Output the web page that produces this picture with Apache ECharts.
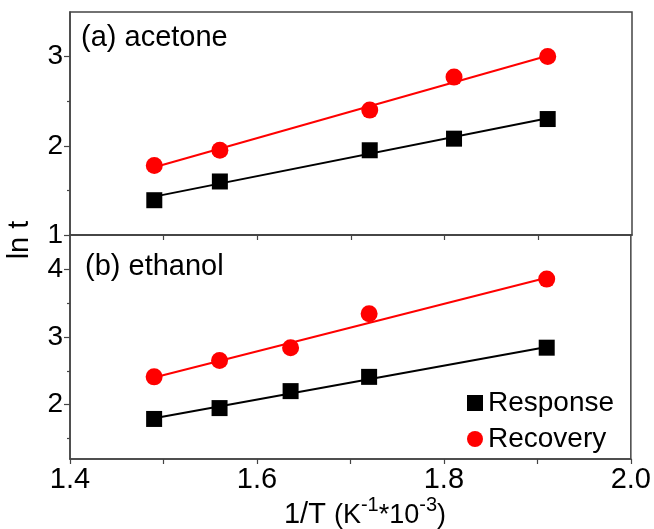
<!DOCTYPE html>
<html>
<head>
<meta charset="utf-8">
<script src="https://cdn.jsdelivr.net/npm/echarts@6/dist/echarts.min.js"></script>
<style>
html,body{margin:0;padding:0;background:#fff;}
#c{width:654px;height:529px;}
</style>
</head>
<body>
<div id="c"></div>
<script>
// ---- data ----
const xAcetone = [1.49, 1.56, 1.72, 1.81, 1.91];
const respAcetone = [1.39, 1.60, 1.95, 2.08, 2.30];
const recAcetone = [1.78, 1.95, 2.40, 2.77, 3.00];

const xEthanol = [1.49, 1.56, 1.636, 1.72, 1.91];
const respEthanol = [1.79, 1.95, 2.20, 2.41, 2.84];
const recEthanol = [2.41, 2.65, 2.84, 3.34, 3.85];

// linear fit lines (end points)
const fitX = [1.49, 1.91];
const fitRespAcetone = [1.43, 2.31];
const fitRecAcetone = [1.76, 3.01];
const fitRespEthanol = [1.80, 2.85];
const fitRecEthanol = [2.40, 3.87];

// tick labels
const xTickLabels = [1.4, 1.6, 1.8, 2.0];
const xTicks = [1.4, 1.5, 1.6, 1.7, 1.8, 1.9, 2.0];
const yTicksA = [1, 2, 3];
const yMinorA = [1.5, 2.5];
const yTicksB = [2, 3, 4];
const yMinorB = [1.5, 2.5, 3.5];

const FONT = "'Liberation Sans', Arial, sans-serif";
const AX = '#444';

function pairs(xs, ys) { return xs.map((x, i) => [x, ys[i]]); }

const chart = echarts.init(document.getElementById('c'));

function xAxisCfg(gi, showLabels) {
  return {
    type: 'value', gridIndex: gi, min: 1.4, max: 2.0,
    axisLine: { show: true, onZero: false, lineStyle: { color: AX, width: 1.5 } },
    axisTick: { show: true, inside: false, length: 5, customValues: showLabels ? xTicks : xTicks.slice(1, 6), lineStyle: { color: AX, width: 1.2 } },
    axisLabel: { show: showLabels, customValues: xTickLabels, formatter: v => v.toFixed(1), color: '#000', fontSize: 29, fontFamily: FONT, margin: 6 },
    splitLine: { show: false }
  };
}
function yAxisCfg(gi, min, max, ticks) {
  return {
    type: 'value', gridIndex: gi, min: min, max: max, position: 'left',
    axisLine: { show: true, onZero: false, lineStyle: { color: AX, width: 1.5 } },
    axisTick: { show: true, inside: false, length: 6, customValues: ticks, lineStyle: { color: AX, width: 1.2 } },
    axisLabel: { show: true, customValues: ticks, color: '#000', fontSize: 28, fontFamily: FONT, margin: 7 },
    splitLine: { show: false }
  };
}
function yMinorCfg(gi, min, max, ticks) {
  return {
    type: 'value', gridIndex: gi, min: min, max: max, position: 'left',
    axisLine: { show: false },
    axisTick: { show: true, inside: false, length: 3, customValues: ticks, lineStyle: { color: AX, width: 1.2 } },
    axisLabel: { show: false },
    splitLine: { show: false }
  };
}

function fitLine(name, xi, yi, xs, ys, color) {
  return { name: name, type: 'line', xAxisIndex: xi, yAxisIndex: yi, data: pairs(xs, ys),
    symbol: 'none', lineStyle: { color: color, width: 2 }, z: 2, silent: true };
}
function pts(name, xi, yi, xs, ys, color, symbol, size) {
  return { name: name, type: 'scatter', xAxisIndex: xi, yAxisIndex: yi, data: pairs(xs, ys),
    symbol: symbol, symbolSize: size, itemStyle: { color: color, opacity: 1 }, z: 3 };
}

chart.setOption({
  animation: false,
  backgroundColor: '#fff',
  textStyle: { fontFamily: FONT },
  grid: [
    { left: 70, top: 12, width: 562, height: 223, show: true, borderColor: AX, borderWidth: 1.5, backgroundColor: 'transparent' },
    { left: 70, top: 235, width: 562, height: 224, show: true, borderColor: AX, borderWidth: 1.5, backgroundColor: 'transparent' }
  ],
  xAxis: [xAxisCfg(0, false), xAxisCfg(1, true)],
  yAxis: [
    yAxisCfg(0, 1, 3.5, yTicksA),
    yAxisCfg(1, 1.2, 4.5, yTicksB),
    yMinorCfg(0, 1, 3.5, yMinorA),
    yMinorCfg(1, 1.2, 4.5, yMinorB)
  ],
  legend: {
    orient: 'vertical', left: 462, top: 384, itemGap: 8,
    itemWidth: 16, itemHeight: 16,
    textStyle: { fontSize: 28, color: '#000', fontFamily: FONT },
    data: [
      { name: 'Response', icon: 'rect', itemStyle: { color: '#000' } },
      { name: 'Recovery', icon: 'circle', itemStyle: { color: '#ff0000' } }
    ]
  },
  series: [
    fitLine('fitA1', 0, 0, fitX, fitRespAcetone, '#000'),
    fitLine('fitA2', 0, 0, fitX, fitRecAcetone, '#ff0000'),
    fitLine('fitB1', 1, 1, fitX, fitRespEthanol, '#000'),
    fitLine('fitB2', 1, 1, fitX, fitRecEthanol, '#ff0000'),
    pts('Response', 0, 0, xAcetone, respAcetone, '#000', 'rect', 16),
    pts('Recovery', 0, 0, xAcetone, recAcetone, '#ff0000', 'circle', 17),
    pts('Response', 1, 1, xEthanol, respEthanol, '#000', 'rect', 16),
    pts('Recovery', 1, 1, xEthanol, recEthanol, '#ff0000', 'circle', 17)
  ],
  graphic: [
    { type: 'text', left: 81, top: 23, style: { text: '(a) acetone', fontSize: 29, fontFamily: FONT, fill: '#000' } },
    { type: 'text', left: 85, top: 252, style: { text: '(b) ethanol', fontSize: 29, fontFamily: FONT, fill: '#000' } },
    { type: 'text', x: 20, y: 240, rotation: Math.PI / 2,
      style: { text: 'ln t', fontSize: 29, fontFamily: FONT, fill: '#000', align: 'center', verticalAlign: 'middle' } },
    { type: 'text', x: 365, y: 512,
      style: {
        text: '{a|1/T }{b|(K}{s|-1}{b|*10}{s|-3}{b|)}',
        align: 'center', verticalAlign: 'middle', fill: '#000', fontFamily: FONT,
        rich: {
          a: { fontSize: 29, fontFamily: FONT, fill: '#000', verticalAlign: 'bottom', lineHeight: 34 },
          b: { fontSize: 27, fontFamily: FONT, fill: '#000', verticalAlign: 'bottom', lineHeight: 34 },
          s: { fontSize: 20, fontFamily: FONT, fill: '#000', verticalAlign: 'top', lineHeight: 20 }
        }
      } }
  ]
});
</script>
</body>
</html>
